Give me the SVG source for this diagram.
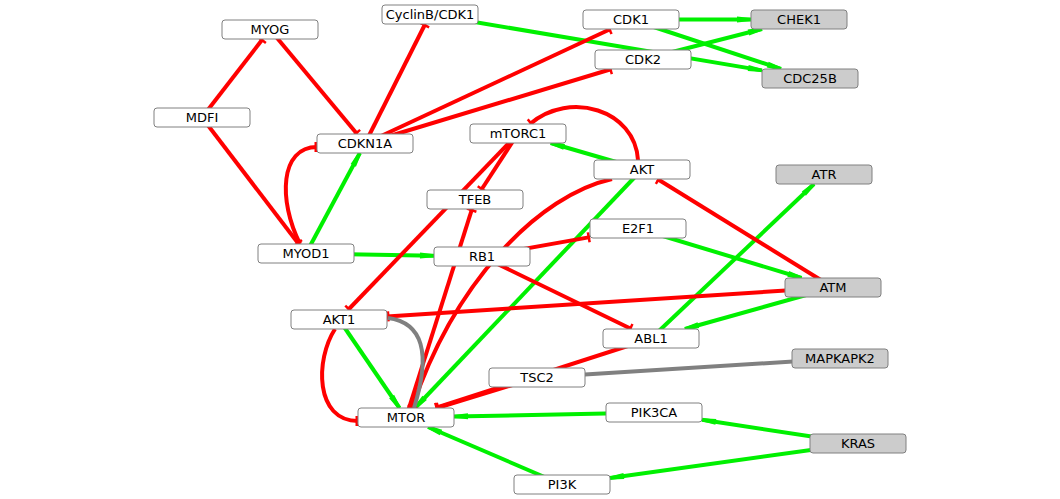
<svg xmlns="http://www.w3.org/2000/svg" width="1060" height="499" viewBox="0 0 1060 499">
<style>
.n rect{fill:#ffffff;stroke:#808080;stroke-width:1}
.g rect{fill:#cccccc}
.n text{font-family:"DejaVu Sans",sans-serif;font-size:13px;fill:#000;text-anchor:middle}
.a{stroke:#00f000;stroke-width:4;fill:none;marker-end:url(#arr)}
.t{stroke:#ff0000;stroke-width:4;fill:none;marker-end:url(#tee)}
.u{stroke:#808080;stroke-width:4;fill:none}
</style>
<defs>
<marker id="arr" markerUnits="userSpaceOnUse" markerWidth="16" markerHeight="10" viewBox="-15 -5 16 10" refX="0" refY="0" orient="auto"><path d="M-14,-3 L0,-1.5 L0,1.5 L-14,3 z" fill="#00f000"/></marker>
<marker id="tee" markerUnits="userSpaceOnUse" markerWidth="6" markerHeight="14" viewBox="-3 -7 6 14" refX="0" refY="0" orient="auto"><rect x="-2.5" y="-5" width="2.5" height="10" fill="#ff0000"/></marker>
</defs>
<rect width="1060" height="499" fill="#ffffff"/>
<g id="edges">
<path class="a" d="M631,19.5 L751,19.5"/>
<path class="a" d="M631,19.5 L781,69"/>
<path class="a" d="M643,59.5 L762,29"/>
<path class="a" d="M430,14.5 L762,70.4"/>
<path class="a" d="M642,169.5 L550.7,143"/>
<path class="a" d="M306,253.5 L359.9,153"/>
<path class="a" d="M306,253.5 L434,255.7"/>
<path class="a" d="M642,169.5 L415,408"/>
<path class="a" d="M638,228.5 L801.6,278"/>
<path class="a" d="M651,338.5 L814,184"/>
<path class="a" d="M833,287.5 L684.9,329"/>
<path class="a" d="M339,319.5 L399.5,408"/>
<path class="a" d="M654,412.5 L454,416.5"/>
<path class="a" d="M562,484.5 L428.1,427"/>
<path class="a" d="M858,443.5 L702,419.8"/>
<path class="a" d="M858,443.5 L610,477.9"/>
<path class="t" d="M202,117.5 L262.7,39"/>
<path class="t" d="M270,29.5 L357.1,134"/>
<path class="t" d="M202,117.5 L298.7,244"/>
<path class="t" d="M365,143.5 L425.2,24"/>
<path class="t" d="M365,143.5 L610.6,29"/>
<path class="t" d="M365,143.5 L611.6,69"/>
<path class="t" d="M300,244 C278,200 280,147 317,147"/>
<path class="t" d="M518,133.5 L481.2,190"/>
<path class="t" d="M638,160 C635,110 570,90 530,124"/>
<path class="t" d="M518,133.5 L348,310"/>
<path class="t" d="M612,179 C540,195 455,280 412,408"/>
<path class="t" d="M335,329 C315,360 315,421 358,421"/>
<path class="t" d="M833,287.5 L657.4,179"/>
<path class="t" d="M833,287.5 L387,316.4"/>
<path class="t" d="M482,256.5 L590,237.1"/>
<path class="t" d="M482,256.5 L631.4,329"/>
<path class="t" d="M651,338.5 L435.5,408"/>
<path class="t" d="M537,377.5 L437,408"/>
<path class="t" d="M406,417.5 L472,209"/>
<path class="u" d="M388,318 Q440,325 414,408"/>
<path class="u" d="M537,377.5 L840,358.5"/>
</g>
<g id="MYOG" class="n"><rect x="222" y="20" width="96" height="19" rx="3"/><text x="270" y="34">MYOG</text></g>
<g id="MDFI" class="n"><rect x="154" y="108" width="96" height="19" rx="3"/><text x="202" y="122">MDFI</text></g>
<g id="CDKN1A" class="n"><rect x="317" y="134" width="96" height="19" rx="3"/><text x="365" y="148">CDKN1A</text></g>
<g id="CyclinB_CDK1" class="n"><rect x="382" y="5" width="96" height="19" rx="3"/><text x="430" y="19">CyclinB/CDK1</text></g>
<g id="CDK1" class="n"><rect x="583" y="10" width="96" height="19" rx="3"/><text x="631" y="24">CDK1</text></g>
<g id="CHEK1" class="n g"><rect x="751" y="10" width="96" height="19" rx="3"/><text x="799" y="24">CHEK1</text></g>
<g id="CDK2" class="n"><rect x="595" y="50" width="96" height="19" rx="3"/><text x="643" y="64">CDK2</text></g>
<g id="CDC25B" class="n g"><rect x="762" y="69" width="96" height="19" rx="3"/><text x="810" y="83">CDC25B</text></g>
<g id="mTORC1" class="n"><rect x="470" y="124" width="96" height="19" rx="3"/><text x="518" y="138">mTORC1</text></g>
<g id="AKT" class="n"><rect x="594" y="160" width="96" height="19" rx="3"/><text x="642" y="174">AKT</text></g>
<g id="TFEB" class="n"><rect x="427" y="190" width="96" height="19" rx="3"/><text x="475" y="204">TFEB</text></g>
<g id="E2F1" class="n"><rect x="590" y="219" width="96" height="19" rx="3"/><text x="638" y="233">E2F1</text></g>
<g id="MYOD1" class="n"><rect x="258" y="244" width="96" height="19" rx="3"/><text x="306" y="258">MYOD1</text></g>
<g id="RB1" class="n"><rect x="434" y="247" width="96" height="19" rx="3"/><text x="482" y="261">RB1</text></g>
<g id="ATR" class="n g"><rect x="776" y="165" width="96" height="19" rx="3"/><text x="824" y="179">ATR</text></g>
<g id="ATM" class="n g"><rect x="785" y="278" width="96" height="19" rx="3"/><text x="833" y="292">ATM</text></g>
<g id="ABL1" class="n"><rect x="603" y="329" width="96" height="19" rx="3"/><text x="651" y="343">ABL1</text></g>
<g id="AKT1" class="n"><rect x="291" y="310" width="96" height="19" rx="3"/><text x="339" y="324">AKT1</text></g>
<g id="TSC2" class="n"><rect x="489" y="368" width="96" height="19" rx="3"/><text x="537" y="382">TSC2</text></g>
<g id="MTOR" class="n"><rect x="358" y="408" width="96" height="19" rx="3"/><text x="406" y="422">MTOR</text></g>
<g id="PI3K" class="n"><rect x="514" y="475" width="96" height="19" rx="3"/><text x="562" y="489">PI3K</text></g>
<g id="MAPKAPK2" class="n g"><rect x="792" y="349" width="96" height="19" rx="3"/><text x="840" y="363">MAPKAPK2</text></g>
<g id="PIK3CA" class="n"><rect x="606" y="403" width="96" height="19" rx="3"/><text x="654" y="417">PIK3CA</text></g>
<g id="KRAS" class="n g"><rect x="810" y="434" width="96" height="19" rx="3"/><text x="858" y="448">KRAS</text></g>
</svg>
